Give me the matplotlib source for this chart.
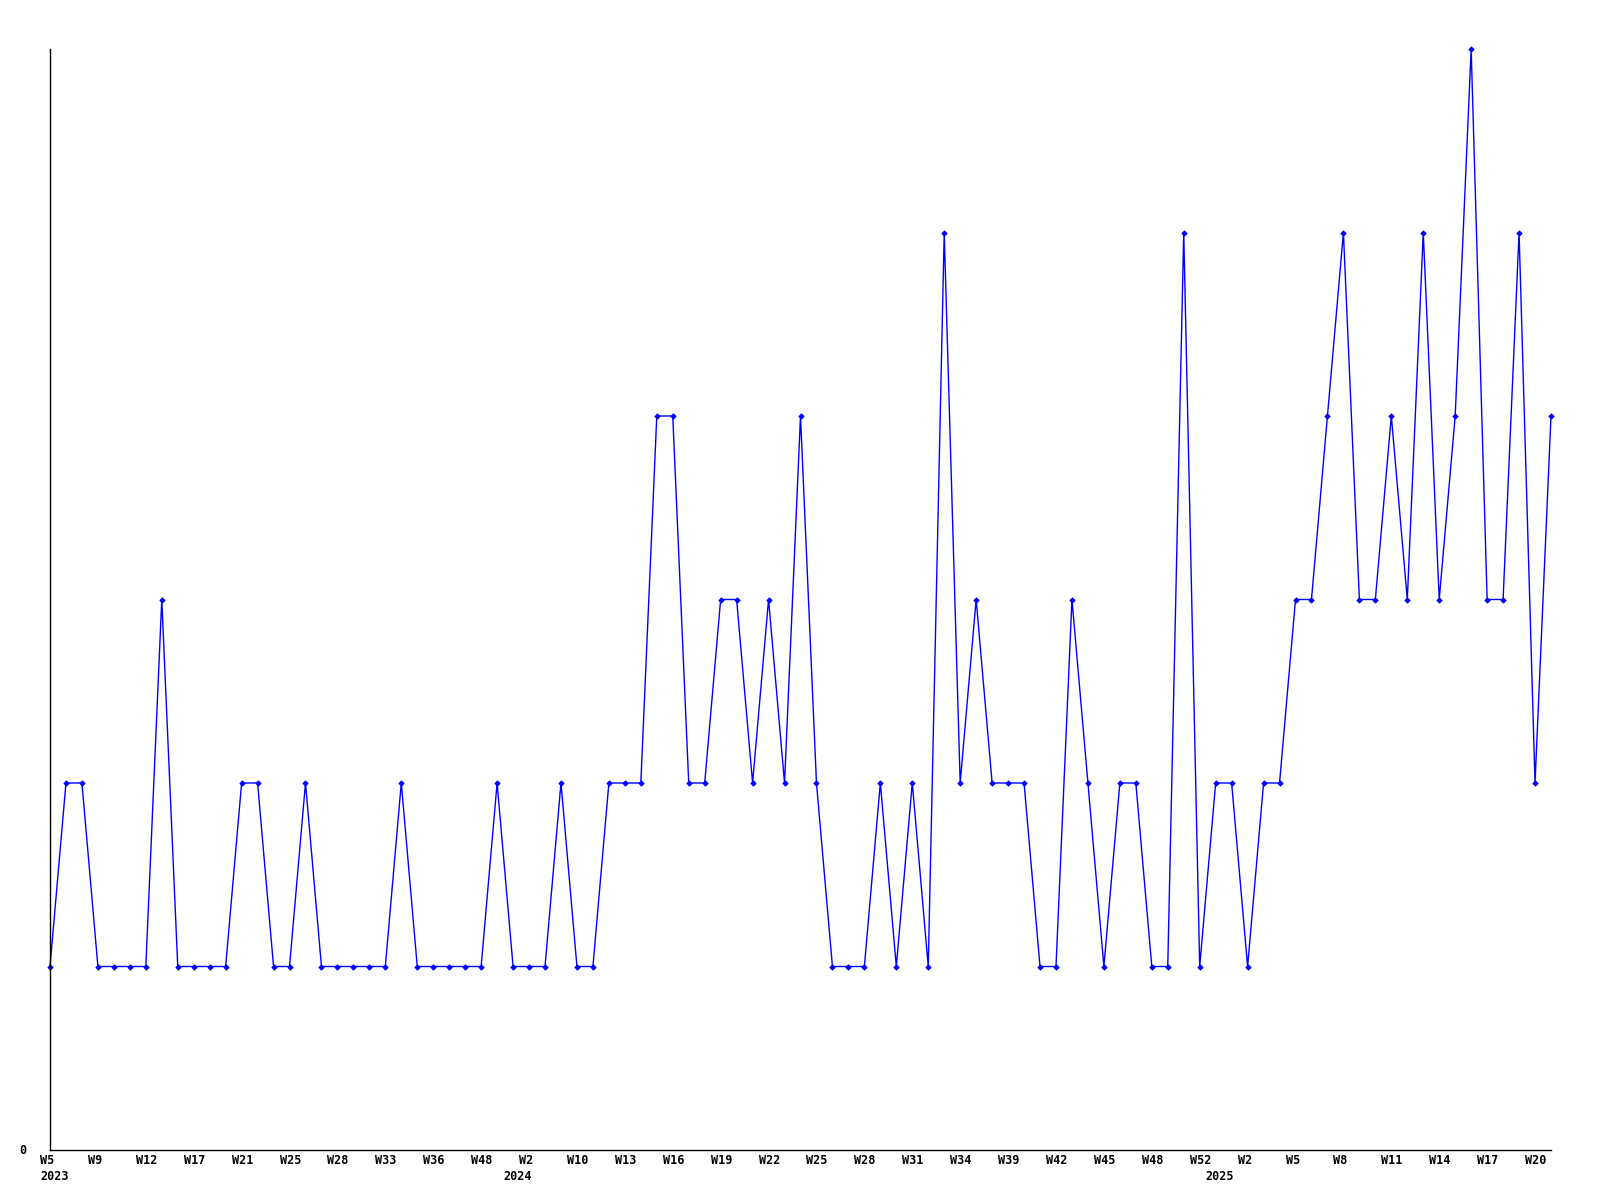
import matplotlib
matplotlib.use("Agg")
import matplotlib.pyplot as plt
from matplotlib.transforms import offset_copy

# weekly values, one per data point (weeks are not contiguous)
values = [1, 2, 2, 1, 1, 1, 1, 3, 1, 1, 1, 1, 2, 2, 1, 1, 2, 1, 1, 1,
          1, 1, 2, 1, 1, 1, 1, 1, 2, 1, 1, 1, 2, 1, 1, 2, 2, 2, 4, 4,
          2, 2, 3, 3, 2, 3, 2, 4, 2, 1, 1, 1, 2, 1, 2, 1, 5, 2, 3, 2,
          2, 2, 1, 1, 3, 2, 1, 2, 2, 1, 1, 5, 1, 2, 2, 1, 2, 2, 3, 3,
          4, 5, 3, 3, 4, 3, 5, 3, 4, 6, 3, 3, 5, 2, 4]

# every third point gets a week label
week_labels = ["W5", "W9", "W12", "W17", "W21", "W25", "W28", "W33", "W36", "W48",
               "W2", "W10", "W13", "W16", "W19", "W22", "W25", "W28", "W31", "W34",
               "W39", "W42", "W45", "W48", "W52", "W2", "W5", "W8", "W11", "W14",
               "W17", "W20"]
year_labels = ["2023", "2024", "2025"]
year_index = [0, 29, 73]

x = list(range(len(values)))

fig = plt.figure(figsize=(16, 12), dpi=100)
ax = fig.add_axes([50 / 1600, 50 / 1200, 1501 / 1600, 1101 / 1200])

ax.plot(x, values, color="#0000ff", linewidth=1.0, marker="D", markersize=2.8,
        markeredgewidth=0.5, clip_on=False)

ax.set_xlim(0, len(values) - 1)
ax.set_ylim(0, max(values))
for side in ["top", "right"]:
    ax.spines[side].set_visible(False)
ax.spines["left"].set_linewidth(1.0)
ax.spines["bottom"].set_linewidth(1.0)
ax.set_xticks([])
ax.set_yticks([])

font = dict(family="DejaVu Sans Mono", fontsize=8.5, fontweight="bold")

# labels sit just left of their point, below the axis
trans = ax.get_xaxis_transform()
wk_tr = offset_copy(trans, fig=fig, x=-10, y=-11, units="dots")
yr_tr = offset_copy(trans, fig=fig, x=-10, y=-27, units="dots")
for i, lab in enumerate(week_labels):
    ax.text(x[i * 3], 0, lab, transform=wk_tr, ha="left", va="center", **font)
for i, lab in zip(year_index, year_labels):
    ax.text(x[i], 0, lab, transform=yr_tr, ha="left", va="center", **font)

ax.text(0, 0, "0", transform=offset_copy(ax.transData, fig=fig, x=-27, y=0, units="dots"),
        ha="center", va="center", **font)

fig.savefig("out.png", dpi=100)
